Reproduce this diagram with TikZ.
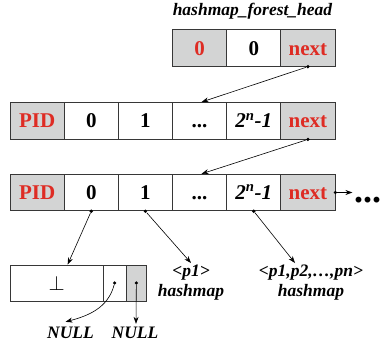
\documentclass[tikz,border=0pt]{standalone}
\usepackage{fontspec}
\setmainfont{Liberation Serif}
\usetikzlibrary{arrows.meta,calc}
\definecolor{cellred}{RGB}{222,44,36}
\definecolor{cellgray}{RGB}{211,212,212}
\definecolor{cellline}{RGB}{55,55,55}
\tikzset{
  cell/.style={draw=cellline, line width=0.9pt, minimum width=54.17pt,
    minimum height=36.5pt, inner sep=0pt, text height=14pt, text depth=0pt,
    font=\fontsize{21}{24}\selectfont\bfseries},
  graycell/.style={cell, fill=cellgray, text=cellred},
  leafcell/.style={draw=cellline, line width=0.9pt, minimum height=36pt, inner sep=0pt},
  lbl/.style={font=\fontsize{17.5}{20}\selectfont\bfseries\itshape, inner sep=0pt, align=center},
  ptr/.style={circle, fill=black, inner sep=0pt, minimum size=3.6pt},
  link/.style={line width=0.6pt, -{Stealth[length=7pt,width=5pt]}}
}
\begin{document}
\begin{tikzpicture}[x=1pt,y=-1pt]
\useasboundingbox (0,0) rectangle (380,343);

% head record
\node[lbl, anchor=base] (headlbl) at (252.5,15) {hashmap\_forest\_head};
\node[graycell] (h0) at (199.6,48) {0};
\node[cell] (h1) at (253.75,48) {0};
\node[graycell] (h2) at (307.9,48) {next};

% first PID record
\node[graycell] (a0) at (37.1,120.7) {PID};
\node[cell] (a1) at (91.25,120.7) {0};
\node[cell] (a2) at (145.4,120.7) {1};
\node[cell] (a3) at (199.6,120.7) {...};
\node[cell] (a4) at (253.75,120.7) {\itshape 2\textsuperscript{n}-1};
\node[graycell] (a5) at (307.9,120.7) {next};

% second PID record
\node[graycell] (b0) at (37.1,192.5) {PID};
\node[cell] (b1) at (91.25,192.5) {0};
\node[cell] (b2) at (145.4,192.5) {1};
\node[cell] (b3) at (199.6,192.5) {...};
\node[cell] (b4) at (253.75,192.5) {\itshape 2\textsuperscript{n}-1};
\node[graycell] (b5) at (307.9,192.5) {next};
\node[font=\fontsize{36}{36}\selectfont\bfseries, inner sep=0pt, anchor=base west] (more) at (353.8,202) {...};

% leaf record
\node[leafcell, minimum width=93.3pt] (c0) at (56.65,283) {\fontsize{22}{24}\selectfont$\perp$};
\node[leafcell, minimum width=22.7pt] (c1) at (114.65,283) {};
\node[leafcell, fill=cellgray, minimum width=20.7pt] (c2) at (136.35,283) {};

% value labels
\node[lbl, anchor=north] (v1) at (191,265) {<p1>\\hashmap};
\node[lbl, anchor=north] (v2) at (311,265) {<p1,p2,…,pn>\\hashmap};
\node[lbl, anchor=base] (n1) at (70.5,338.5) {NULL};
\node[lbl, anchor=base] (n2) at (135,338.5) {NULL};

% pointer origins
\node[ptr] (ph) at (h2.south) {};
\node[ptr] (pa) at (a5.south) {};
\node[ptr] (pb) at (b5.east) {};
\node[ptr] (pb1) at (b1.south) {};
\node[ptr] (pb2) at (b2.south) {};
\node[ptr] (pb4) at (b4.south) {};
\node[ptr] (pc1) at (c1.center) {};
\node[ptr] (pc2) at (c2.center) {};

% links
\draw[link] (ph) -- ([xshift=2pt]a3.north);
\draw[link] (pa) -- ([xshift=2pt]b3.north);
\draw[link] (pb) -- ([xshift=17pt]b5.east);
\draw[link] (pb1) -- ([xshift=11pt]c0.north);
\draw[link] (pb2) -- ([yshift=2pt]v1.north);
\draw[link] (pb4) -- ([xshift=-16pt,yshift=2pt]v2.north);
\draw[link] (pc1) to[out=-105, in=15] ([xshift=-5pt,yshift=5pt]n1.north);
\draw[link] (pc2) -- ([xshift=1pt,yshift=3pt]n2.north);
\end{tikzpicture}
\end{document}
